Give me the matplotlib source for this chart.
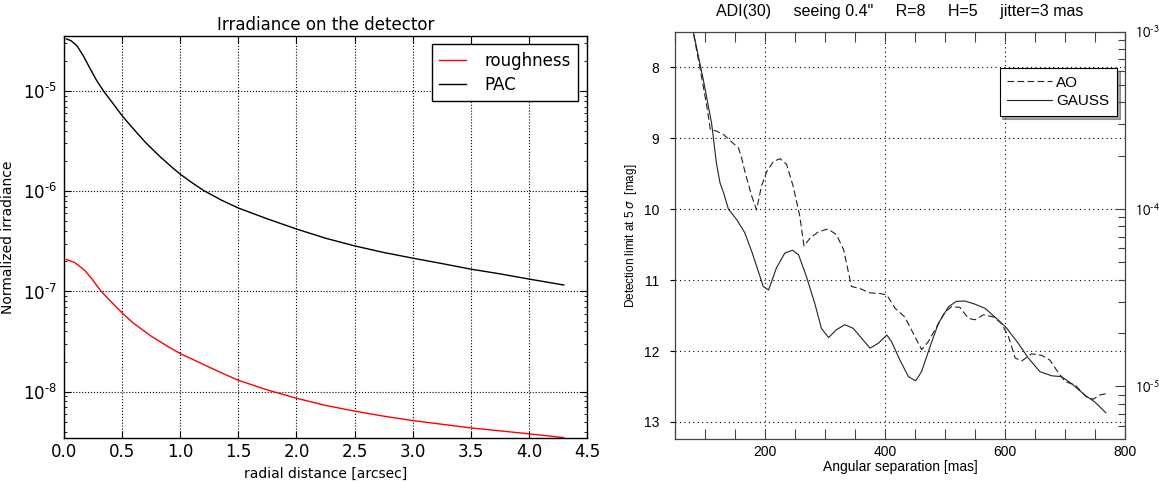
import matplotlib
matplotlib.use("Agg")
import matplotlib.pyplot as plt
from matplotlib.ticker import (MultipleLocator, FixedLocator, LogLocator, NullFormatter,
                               FuncFormatter)
import numpy as np

# ---- left panel: irradiance profiles ----
pac_x = [0.02, 0.06, 0.11, 0.165, 0.22, 0.28, 0.34, 0.42, 0.5, 0.59, 0.7, 0.82, 0.93,
         1.0, 1.1, 1.2, 1.35, 1.5, 1.75, 2.0, 2.25, 2.5, 2.75, 3.0, 3.25, 3.5, 3.75,
         4.0, 4.3]
pac_y = [3.31e-5, 3.18e-5, 2.84e-5, 2.26e-5, 1.71e-5, 1.28e-5, 1.0e-5, 7.55e-6, 5.67e-6,
         4.28e-6, 3.08e-6, 2.25e-6, 1.73e-6, 1.48e-6, 1.22e-6, 1.02e-6, 8.2e-7, 6.8e-7,
         5.3e-7, 4.2e-7, 3.4e-7, 2.85e-7, 2.45e-7, 2.15e-7, 1.9e-7, 1.67e-7, 1.5e-7,
         1.33e-7, 1.16e-7]

rough_x = [0.02, 0.09, 0.18, 0.25, 0.32, 0.41, 0.5, 0.6, 0.75, 0.89, 1.0, 1.17, 1.35,
           1.5, 1.75, 2.0, 2.25, 2.5, 2.75, 3.0, 3.5, 4.0, 4.3]
rough_y = [2.08e-7, 1.95e-7, 1.62e-7, 1.29e-7, 1.0e-7, 7.8e-8, 6.1e-8, 4.8e-8, 3.58e-8,
           2.84e-8, 2.4e-8, 1.94e-8, 1.55e-8, 1.3e-8, 1.04e-8, 8.6e-9, 7.3e-9, 6.4e-9,
           5.7e-9, 5.15e-9, 4.35e-9, 3.8e-9, 3.48e-9]

# ---- right panel: 5-sigma detection limits ----
gauss_sep = [78, 97, 111, 119, 125, 131, 139, 153, 166, 178, 189, 197, 206, 219, 233,
             246, 256, 269, 283, 294, 306, 319, 333, 347, 361, 375, 389, 403, 411, 425,
             439, 451, 461, 475, 489, 506, 519, 533, 550, 567, 583, 601, 622, 639, 658,
             678, 694, 711, 733, 750, 768]
gauss_mag = [7.4, 8.17, 8.79, 9.35, 9.63, 9.77, 10.0, 10.15, 10.33, 10.6, 10.88, 11.09,
             11.14, 10.83, 10.62, 10.58, 10.645, 10.95, 11.33, 11.68, 11.81, 11.70, 11.63,
             11.68, 11.82, 11.96, 11.89, 11.775, 11.87, 12.13, 12.36, 12.42, 12.29, 11.94,
             11.61, 11.375, 11.30, 11.295, 11.34, 11.40, 11.52, 11.66, 11.89, 12.10, 12.29,
             12.35, 12.36, 12.46, 12.62, 12.72, 12.87]

ao_sep = [78, 92, 103, 109, 119, 131, 144, 156, 161, 167, 178, 186, 194, 203, 214, 225,
          236, 247, 258, 265, 275, 289, 305, 319, 331, 344, 358, 375, 392, 403, 417, 433,
          447, 461, 472, 486, 500, 511, 525, 539, 550, 564, 581, 594, 606, 617, 628, 644,
          661, 675, 686, 700, 717, 736, 747, 758, 769]
ao_mag = [7.4, 8.03, 8.55, 8.88, 8.90, 8.95, 9.05, 9.14, 9.28, 9.49, 9.82, 10.01, 9.68,
          9.47, 9.33, 9.29, 9.37, 9.68, 10.10, 10.52, 10.41, 10.32, 10.28, 10.36, 10.57,
          11.09, 11.12, 11.18, 11.19, 11.21, 11.40, 11.52, 11.75, 11.98, 11.87, 11.66,
          11.45, 11.375, 11.385, 11.54, 11.56, 11.49, 11.52, 11.61, 11.80, 12.10, 12.14,
          12.04, 12.06, 12.13, 12.27, 12.43, 12.48, 12.65, 12.68, 12.62, 12.60]

W, H = 1159, 483
fig = plt.figure(figsize=(W / 100, H / 100), dpi=100)


def rect(l, t, r, b):
    return [l / W, 1 - b / H, (r - l) / W, (b - t) / H]


def decade_label(v, pos):
    n = int(round(np.log10(v)))
    return "$10^{\u2010%d}$" % (-n) if n < 0 else "$10^{%d}$" % n


# ---------- left ----------
ax1 = fig.add_axes(rect(64, 36, 587, 438))
ax1.plot(rough_x, rough_y, color="red", lw=1.0, label="roughness")
ax1.plot(pac_x, pac_y, color="black", lw=1.0, label="PAC")
ax1.set_yscale("log")
ax1.set_xlim(0, 4.5)
ax1.set_ylim(3.45e-9, 3.54e-5)
ax1.xaxis.set_major_locator(MultipleLocator(0.5))
ax1.yaxis.set_major_formatter(FuncFormatter(decade_label))
ax1.grid(True, which="major", ls=":", color="k", lw=0.8)
ax1.tick_params(which="both", direction="in", top=True, right=True, labelsize=12)
ax1.tick_params(which="major", length=5, width=0.8)
ax1.tick_params(which="minor", length=2.5, width=0.6)
ax1.tick_params(axis="y", pad=5)
for s in ax1.spines.values():
    s.set_linewidth(1.0)
ax1.set_title("Irradiance on the detector", fontsize=12, pad=4)
ax1.set_xlabel("radial distance [arcsec]", fontsize=10, labelpad=4)
ax1.set_ylabel("Normalized irradiance", fontsize=10, labelpad=6)
leg1 = ax1.legend(loc="upper right", bbox_to_anchor=(0.983, 0.979), borderaxespad=0,
                  fontsize=12, fancybox=False, edgecolor="k", framealpha=1,
                  handlelength=1.6, handletextpad=1.1, labelspacing=0.35, borderpad=0.45)
leg1.get_frame().set_linewidth(1.0)

# ---------- right ----------
fam = ["Liberation Sans", "DejaVu Sans"]
ax2 = fig.add_axes(rect(675, 31.7, 1125, 439))
ax2.plot(ao_sep, ao_mag, color="#222222", lw=0.8, ls=(0, (6, 3)), label="AO")
ax2.plot(gauss_sep, gauss_mag, color="#222222", lw=0.8, label="GAUSS")
ax2.set_xlim(50, 800)
ax2.set_ylim(13.24, 7.5)
ax2.xaxis.set_major_locator(FixedLocator([200, 400, 600, 800]))
ax2.xaxis.set_minor_locator(MultipleLocator(50))
ax2.yaxis.set_major_locator(MultipleLocator(1))
ax2.grid(True, which="major", ls=(0, (1, 3)), color="k", lw=0.8)
ax2.tick_params(axis="x", which="both", direction="in", top=True, bottom=True,
                length=7, width=0.8, color="#444444", labelsize=10, pad=4)
ax2.tick_params(axis="y", which="both", left=False, right=False, labelsize=10, pad=8)
for lbl in ax2.get_xticklabels() + ax2.get_yticklabels():
    lbl.set_family(fam)
for s in ax2.spines.values():
    s.set_color("#444444")
    s.set_linewidth(0.9)
ax2.set_xlabel("Angular separation [mas]", fontsize=10, family=fam, labelpad=1)
ax2.set_ylabel(r"Detection limit at 5 $\sigma$  [mag]", fontsize=8.5, family=fam,
               labelpad=3)
ax2.set_title('ADI(30)     seeing 0.4"     R=8     H=5     jitter=3 mas',
              fontsize=11.5, family=fam, pad=11)
leg2 = ax2.legend(loc="upper right", bbox_to_anchor=(0.982, 0.911), borderaxespad=0,
                  prop={"family": fam, "size": 11}, fancybox=False, shadow=True,
                  edgecolor="k", framealpha=1, handlelength=2.9, handletextpad=0.3,
                  labelspacing=0.3, borderpad=0.5)
leg2.get_frame().set_linewidth(0.8)

# contrast scale matching the magnitude axis
ax3 = ax2.twinx()
ax3.set_yscale("log")
ax3.set_ylim(10 ** (-0.4 * 13.24), 10 ** (-0.4 * 7.5))
ax3.yaxis.set_major_locator(LogLocator(base=10))
ax3.yaxis.set_minor_locator(LogLocator(base=10, subs=range(2, 10)))
ax3.yaxis.set_major_formatter(FuncFormatter(decade_label))
ax3.yaxis.set_minor_formatter(NullFormatter())
ax3.tick_params(axis="y", which="major", direction="in", length=7, width=0.8,
                color="#444444", labelsize=10.5, pad=7)
ax3.tick_params(axis="y", which="minor", direction="in", length=5, width=0.8,
                color="#444444")
for s in ax3.spines.values():
    s.set_visible(False)

fig.canvas.draw()
for t in ax3.yaxis.get_major_ticks():
    t.label2.set_math_fontfamily("stixsans")
    t.label2.set_family(fam)

fig.savefig("out.png", dpi=100)
